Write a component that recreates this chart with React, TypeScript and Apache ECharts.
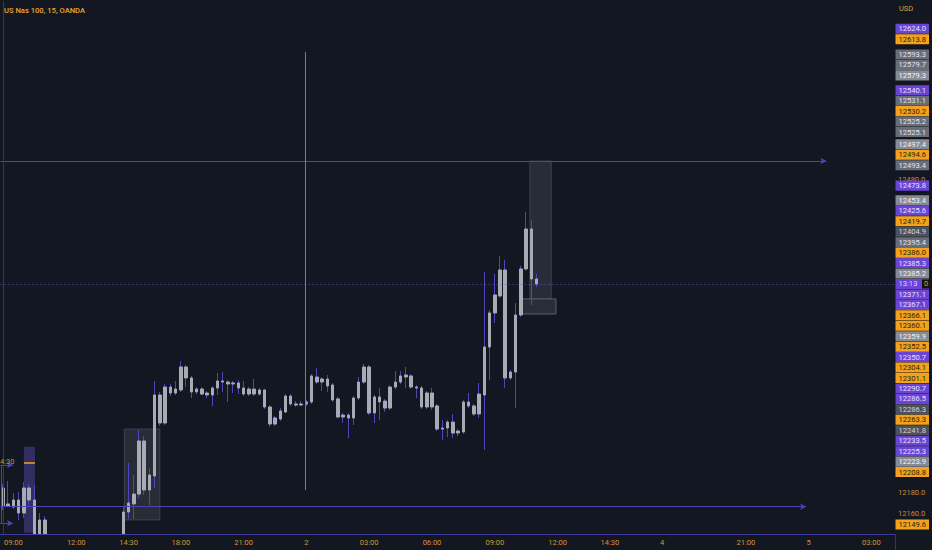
import * as echarts from 'echarts';
import { useEffect, useRef } from 'react';

const BAR_COUNT = 171;
const TITLE = 'US Nas 100, 15, OANDA';
const CURRENCY = 'USD';
const COUNTDOWN = '13:13';

// [bar index, label]
const timeTicks: [number, string][] = [
  [2, '09:00'], [14, '12:00'], [24, '14:30'], [34, '18:00'], [46, '21:00'], [58, '2'],
  [70, '03:00'], [82, '06:00'], [94, '09:00'], [106, '12:00'], [116, '14:30'], [126, '4'],
  [142, '21:00'], [154, '5'], [166, '03:00'],
];
// price scale labels left uncovered by the tags
const scaleLabels = [12160, 12180, 12480];

// 15 min candles: [open, close, low, high]
const candles: [number, number, number, number][] = [
  [12184.5, 12167.3, 12163.4, 12188.3], [12167.3, 12169.2, 12166.3, 12191.2], [12166.3, 12173.0, 12164.4, 12179.7],
  [12173.0, 12160.6, 12153.9, 12180.7], [12160.6, 12184.5, 12155.8, 12190.2], [12184.5, 12173.0, 12168.2, 12188.3],
  [12173.0, 12136.0, 12130.0, 12187.4], [12136.0, 12153.9, 12128.0, 12160.6], [12153.9, 12134.0, 12126.0, 12157.7],
  [12134, 12120, 12112, 12137], [12120, 12108, 12101, 12126], [12108, 12115, 12102, 12121],
  [12115, 12104, 12096, 12119], [12104, 12098, 12090, 12110], [12098, 12106, 12093, 12112],
  [12106, 12113, 12101, 12118], [12113, 12104, 12099, 12117], [12104, 12110, 12100, 12116],
  [12110, 12118, 12106, 12124], [12118, 12112, 12107, 12123], [12112, 12120, 12108, 12127],
  [12120, 12126, 12115, 12131], [12126, 12122, 12117, 12134], [12122, 12161.5, 12120, 12166.3],
  [12161.5, 12170.1, 12154.8, 12208.4], [12169.2, 12178.7, 12154.8, 12196.9], [12178.7, 12229.5, 12174.9, 12240.0],
  [12229.5, 12182.6, 12177.8, 12234.2], [12182.6, 12196.9, 12168.2, 12203.6], [12196.0, 12273.5, 12184.5, 12286.9],
  [12273.5, 12246.7, 12243.8, 12276.4], [12246.7, 12281.1, 12244.8, 12284.0], [12281.1, 12275.4, 12272.5, 12284.0],
  [12275.4, 12279.2, 12273.5, 12286.9], [12278.3, 12300.3, 12276.4, 12306.0], [12300.3, 12289.8, 12281.1, 12302.2],
  [12289.8, 12276.4, 12270.6, 12291.7], [12276.4, 12279.2, 12274.4, 12281.1], [12279.2, 12274.4, 12273.5, 12281.1],
  [12275.4, 12273.5, 12270.6, 12277.3], [12273.5, 12280.2, 12263.0, 12282.1], [12280.2, 12286.9, 12273.5, 12294.5],
  [12286.9, 12285.9, 12276.4, 12295.5], [12285.9, 12284.0, 12266.8, 12287.8], [12284.0, 12285.0, 12275.4, 12286.9],
  [12285.0, 12280.2, 12274.4, 12287.8], [12280.2, 12274.4, 12272.5, 12286.9], [12274.4, 12279.2, 12272.5, 12281.1],
  [12279.2, 12274.4, 12272.5, 12288.8], [12274.4, 12278.3, 12272.5, 12280.2], [12278.3, 12262.0, 12260.1, 12279.2],
  [12262.0, 12245.7, 12242.9, 12263.9], [12245.7, 12251.5, 12243.8, 12253.4], [12250.5, 12258.2, 12248.6, 12261.0],
  [12257.2, 12272.5, 12256.3, 12274.4], [12272.5, 12264.9, 12263.0, 12274.4], [12264.9, 12263.9, 12262.0, 12267.7],
  [12263.9, 12264.9, 12262.9, 12267.7], [12264.9, 12266.8, 12263.0, 12268.7], [12266.8, 12291.7, 12264.9, 12293.6],
  [12290.7, 12285.9, 12284.0, 12299.3], [12285.9, 12288.8, 12277.3, 12290.7], [12288.8, 12282.1, 12276.4, 12292.6],
  [12283.1, 12268.7, 12266.8, 12285.0], [12269.7, 12252.4, 12251.5, 12271.6], [12252.4, 12254.3, 12246.7, 12256.3],
  [12254.3, 12251.5, 12232.3, 12256.3], [12251.5, 12270.6, 12244.8, 12272.5], [12270.6, 12285.9, 12268.7, 12290.7],
  [12285.9, 12300.3, 12284.0, 12303.2], [12300.3, 12256.3, 12254.3, 12302.2], [12256.3, 12271.6, 12246.7, 12273.5],
  [12271.6, 12266.8, 12249.6, 12280.2], [12267.7, 12261.0, 12257.2, 12269.7], [12261.0, 12281.1, 12259.1, 12283.1],
  [12281.1, 12285.9, 12279.2, 12296.5], [12285.9, 12291.7, 12284.0, 12296.5], [12292.6, 12290.7, 12280.2, 12300.3],
  [12291.7, 12281.1, 12279.2, 12293.6], [12281.1, 12280.2, 12270.6, 12283.1], [12280.2, 12262.0, 12260.1, 12282.1],
  [12262.0, 12275.4, 12260.1, 12277.3], [12275.4, 12262.0, 12259.1, 12280.2], [12263.0, 12240.9, 12239.0, 12264.9],
  [12240.9, 12241.9, 12230.4, 12249.6], [12241.9, 12247.6, 12233.3, 12249.6], [12247.6, 12237.1, 12232.3, 12255.3],
  [12237.1, 12239.0, 12234.2, 12240.9], [12238.1, 12266.8, 12236.2, 12268.7], [12266.8, 12263.0, 12261.0, 12275.4],
  [12263.0, 12255.3, 12253.4, 12264.9], [12255.3, 12274.4, 12251.5, 12285.0], [12273.5, 12319.4, 12220.8, 12391.2],
  [12319.4, 12352.0, 12287.8, 12354.8], [12352.0, 12369.2, 12342.4, 12389.3], [12368.2, 12393.1, 12366.3, 12406.5],
  [12393.1, 12289.8, 12280.2, 12402.7], [12289.8, 12295.5, 12287.8, 12297.4], [12295.5, 12350.0, 12261.0, 12361.5],
  [12350.0, 12394.1, 12348.1, 12397.0], [12394.1, 12432.3, 12392.2, 12448.6], [12432.3, 12384.5, 12359.6, 12441.0],
  [12384.5, 12379.7, 12376.8, 12389.3],
];

// price tags stacked on the right scale: [price, kind]
const priceTags: [number, string][] = [
  [12624.0, 'buy'], [12613.8, 'sell'], [12593.3, 'ref'], [12579.7, 'ref'], [12579.3, 'refLight'],
  [12540.1, 'buy'], [12531.1, 'ref'], [12530.2, 'sell'], [12525.2, 'ref'], [12525.1, 'ref'],
  [12497.4, 'refLight'], [12494.6, 'sell'], [12493.4, 'ref'], [12473.8, 'buy'], [12453.4, 'refLight'],
  [12425.6, 'buy'], [12419.7, 'sell'], [12404.9, 'refDark'], [12395.4, 'ref'], [12386.0, 'sell'],
  [12385.3, 'buy'], [12385.2, 'refLight'], [12371.1, 'buy'], [12367.1, 'buy'], [12366.1, 'sell'],
  [12360.1, 'sell'], [12359.9, 'refLight'], [12352.5, 'sell'], [12350.7, 'buy'], [12304.1, 'sell'],
  [12301.1, 'sell'], [12290.7, 'buy'], [12286.5, 'buy'], [12286.3, 'refDark'], [12263.3, 'sell'],
  [12241.8, 'refDark'], [12233.5, 'buy'], [12225.3, 'buy'], [12223.9, 'refLight'], [12208.8, 'sell'],
  [12149.6, 'sell'],
];

// drawings: horizontal rays [price, from bar, to bar]
const rays: [number, number, number][] = [
  [12497.4, -0.5, 157.4],
  [12166.6, -0.5, 153.5],
  [12206.5, -0.5, 1.9],
  [12150.7, -0.5, 1.9],
];
// rectangles [from bar, to bar, top price, bottom price]
const zones: [number, number, number, number][] = [
  [23.2, 30.0, 12241.0, 12153.9],
  [100.7, 104.8, 12497.4, 12365.4],
];
const entryBox: [number, number, number, number] = [99.25, 105.7, 12365.4, 12351.0];
const leftBox: [number, number, number, number] = [4.0, 6.1, 12224.0, 12141.7];
const leftBoxLevel = 12208.8;
const cursorLine: [number, number, number] = [57.7, 12601.7, 12182.6];
const edgeLine: [number, number, number] = [-0.37, 12206.5, 12150.7];

const BG = '#131722';
const AXIS_TEXT = '#d49530';
const WICK = '#4d46c0';
const BODY = '#a8abb3';
const DRAW = '#4b45b3';
const FONT = 'Roboto, "Liberation Sans", sans-serif';

const tagColors: Record<string, [string, string]> = {
  buy: ['#6b44d6', '#e6e0fb'],
  sell: ['#f3a21c', '#2b2410'],
  ref: ['#6a6d78', '#e0e3eb'],
  refLight: ['#878a94', '#f0f2f6'],
  refDark: ['#4e515c', '#d1d4dc'],
  now: ['#6b44d6', '#d8d0f8'],
};

const TAG_H = 10.45;

// the last-price tag keeps its place; the others are pushed away from it
function stackTags(ys: number[], anchor: number): number[] {
  const rows = ys.slice();
  for (let i = anchor - 1; i >= 0; i--) rows[i] = Math.min(ys[i], rows[i + 1] - TAG_H);
  for (let i = anchor + 1; i < ys.length; i++) rows[i] = Math.max(ys[i], rows[i - 1] + TAG_H);
  return rows;
}

function buildOption() {
  const tickText = new Map(timeTicks);
  const categories = Array.from({ length: BAR_COUNT }, (_, i) => String(i));
  const last = candles[candles.length - 1];
  const hidden = { label: { show: false }, emphasis: { disabled: true } };

  return {
    animation: false,
    backgroundColor: BG,
    grid: { left: -2.6, right: 37, top: 1.5, bottom: 15.5 },
    xAxis: [
      {
        type: 'category',
        data: categories,
        boundaryGap: true,
        z: 10,
        axisLine: { lineStyle: { color: '#41399a', width: 1 } },
        axisTick: { show: false },
        splitLine: { show: false },
        axisLabel: {
          interval: 0,
          margin: 4,
          color: AXIS_TEXT,
          fontSize: 7.5,
          fontFamily: FONT,
          formatter: (_: string, i: number) => tickText.get(i) ?? '',
        },
      },
      { type: 'value', min: -0.5, max: BAR_COUNT - 0.5, show: false },
    ],
    yAxis: {
      type: 'value',
      position: 'right',
      min: 12140,
      max: 12650,
      interval: 20,
      z: 10,
      axisLine: { show: true, lineStyle: { color: '#363a45' } },
      axisTick: { show: false },
      splitLine: { show: false },
      axisLabel: {
        margin: 3,
        color: '#c58e30',
        fontSize: 7.5,
        fontFamily: FONT,
        formatter: (v: number) => (scaleLabels.includes(v) ? v.toFixed(1) : ''),
      },
    },
    series: [
      {
        type: 'line',
        xAxisIndex: 1,
        data: [[-1, 12140]],
        showSymbol: false,
        lineStyle: { opacity: 0 },
        silent: true,
        z: 1,
        markArea: {
          silent: true,
          ...hidden,
          data: [
            ...zones.map(([x1, x2, y1, y2]) => [
              {
                coord: [x1, y1],
                itemStyle: { color: 'rgba(120,123,134,0.22)', borderColor: 'rgba(120,123,134,0.35)', borderWidth: 1 },
              },
              { coord: [x2, y2] },
            ]),
            [
              {
                coord: [entryBox[0], entryBox[2]],
                itemStyle: { color: 'rgba(42,46,60,0.95)', borderColor: '#5d606b', borderWidth: 1 },
              },
              { coord: [entryBox[1], entryBox[3]] },
            ],
            [
              { coord: [leftBox[0], leftBox[2]], itemStyle: { color: 'rgba(104,84,200,0.38)' } },
              { coord: [leftBox[1], leftBox[3]] },
            ],
          ],
        },
        markLine: {
          silent: true,
          ...hidden,
          symbol: ['none', 'none'],
          data: [
            ...rays.map(([p, x1, x2]) => [
              { coord: [x1, p], lineStyle: { color: DRAW, width: 1, type: 'solid' } },
              { coord: [x2, p], symbol: 'arrow', symbolSize: [5, 6] },
            ]),
            [
              { coord: [cursorLine[0], cursorLine[1]], lineStyle: { color: '#3f8fcf', width: 1, type: 'solid' } },
              { coord: [cursorLine[0], cursorLine[2]] },
            ],
            [
              { coord: [edgeLine[0], edgeLine[1]], lineStyle: { color: DRAW, width: 1, type: 'solid' } },
              { coord: [edgeLine[0], edgeLine[2]] },
            ],
            [
              { coord: [leftBox[0], leftBoxLevel], lineStyle: { color: '#f3a21c', width: 1.5, type: 'solid' } },
              { coord: [leftBox[1], leftBoxLevel] },
            ],
            { yAxis: last[1], lineStyle: { color: '#6b5bd0', width: 0.8, type: [2, 2], opacity: 0.6 } },
          ],
        },
      },
      {
        type: 'candlestick',
        name: 'wicks',
        data: candles,
        barWidth: 1,
        silent: true,
        z: 2,
        itemStyle: { color: WICK, color0: WICK, borderColor: WICK, borderColor0: WICK, borderWidth: 1 },
      },
      {
        type: 'candlestick',
        name: 'bodies',
        data: candles.map(([o, c]) => [o, c, Math.min(o, c), Math.max(o, c)]),
        barWidth: 3,
        silent: true,
        z: 3,
        itemStyle: { color: BODY, color0: BODY, borderColor: BODY, borderColor0: BODY, borderWidth: 1 },
      },
    ],
  };
}

export default function App() {
  const ref = useRef<HTMLDivElement>(null);

  useEffect(() => {
    const chart = echarts.init(ref.current!, null, { renderer: 'svg' });
    chart.setOption(buildOption());

    const last = candles[candles.length - 1];
    const tags = [
      ...priceTags.map(([p, kind]) => ({ p, kind, text: p.toFixed(1) })),
      { p: last[1], kind: 'now', text: COUNTDOWN },
    ].sort((a, b) => b.p - a.p);
    const ys = tags.map((t) => chart.convertToPixel({ yAxisIndex: 0 }, t.p) as number);
    const rows = stackTags(ys, tags.findIndex((t) => t.kind === 'now'));
    const plotBottom = chart.convertToPixel({ yAxisIndex: 0 }, 12140) as number;

    const axisX = 895.5;
    const graphic: any[] = [
      // hides the parts of candles that run below the plot
      {
        type: 'rect', z: 5, silent: true,
        shape: { x: -5, y: plotBottom + 0.5, width: axisX + 5, height: 550 - plotBottom },
        style: { fill: BG },
      },
      {
        type: 'text', x: 4, y: 10, z: 60,
        style: { text: TITLE, fill: '#f0a531', font: `500 7.6px ${FONT}`, textVerticalAlign: 'middle' },
      },
      {
        type: 'text', x: 899, y: 8, z: 60,
        style: { text: CURRENCY, fill: '#d9a040', font: `7.5px ${FONT}`, textVerticalAlign: 'middle' },
      },
      {
        type: 'text', x: 0, y: 461, z: 60,
        style: { text: '4:30', fill: '#c8902e', font: `7.5px ${FONT}`, textVerticalAlign: 'middle' },
      },
      { type: 'line', z: 60, shape: { x1: axisX, y1: plotBottom, x2: axisX, y2: 550 }, style: { stroke: '#363a45', lineWidth: 1 } },
    ];
    tags.forEach((t, i) => {
      const [bg, fg] = tagColors[t.kind];
      const y = rows[i];
      const z = t.kind === 'now' ? 54 : 50;
      graphic.push({
        type: 'rect', z,
        shape: { x: axisX, y: y - TAG_H / 2 + 0.2, width: 33.5, height: TAG_H - 0.4 },
        style: { fill: bg },
      });
      graphic.push({
        type: 'text', x: axisX + 3, y, z: z + 1,
        style: { text: t.text, fill: fg, font: `7.6px ${FONT}`, textVerticalAlign: 'middle' },
      });
      if (t.kind === 'now') {
        graphic.push({
          type: 'rect', z: z + 2,
          shape: { x: axisX + 26.5, y: y - 4.5, width: 7, height: 9 },
          style: { fill: '#15120c' },
        });
        graphic.push({
          type: 'text', x: axisX + 28.5, y, z: z + 3,
          style: { text: '0', fill: '#e89a2a', font: `7.5px ${FONT}`, textVerticalAlign: 'middle' },
        });
      }
    });
    chart.setOption({ graphic });

    return () => chart.dispose();
  }, []);

  return <div ref={ref} style={{ position: 'absolute', left: 0, top: 0, width: 932, height: 550 }} />;
}
